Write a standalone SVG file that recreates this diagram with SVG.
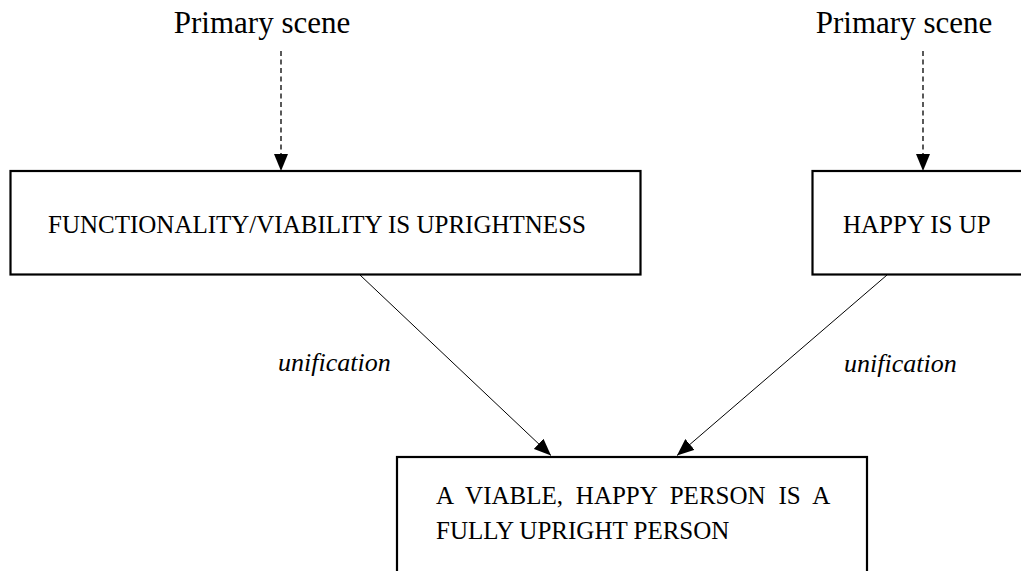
<svg xmlns="http://www.w3.org/2000/svg" width="1021" height="571" viewBox="0 0 1021 571">
  <style>
    .box { fill: #ffffff; stroke: #000000; stroke-width: 2.2; }
    .label { font-family: "Liberation Serif", "Times New Roman", serif; fill: #000000; }
    .head { font-size: 31px; }
    .body { font-size: 25px; }
    .tag { font-size: 26px; font-style: italic; }
    .dash { stroke: #000000; stroke-width: 1.3; stroke-dasharray: 5 3.5; fill: none; }
    .link { stroke: #000000; stroke-width: 1; fill: none; }
  </style>
  <defs>
    <marker id="tri" viewBox="0 0 14 17" refX="7" refY="17" markerWidth="14" markerHeight="17" markerUnits="userSpaceOnUse" orient="auto-start-reverse">
      <path d="M0 0 L14 0 L7 17 Z" fill="#000000"/>
    </marker>
    <marker id="tri2" viewBox="0 0 17 14" refX="17" refY="7" markerWidth="17" markerHeight="14" markerUnits="userSpaceOnUse" orient="auto">
      <path d="M0 0 L17 7 L0 14 Z" fill="#000000"/>
    </marker>
  </defs>
  <rect width="1021" height="571" fill="#ffffff"/>

  <g id="scene-left">
    <text class="label head" x="262" y="33" text-anchor="middle">Primary scene</text>
  </g>
  <g id="scene-right">
    <text class="label head" x="904" y="33" text-anchor="middle">Primary scene</text>
  </g>

  <g id="viability">
    <rect class="box" x="10.5" y="171" width="630" height="103.5"/>
    <text class="label body" x="48" y="233">FUNCTIONALITY/VIABILITY IS UPRIGHTNESS</text>
  </g>

  <g id="happy">
    <rect class="box" x="812.5" y="171" width="220" height="103.5"/>
    <text class="label body" x="843" y="233">HAPPY IS UP</text>
  </g>

  <g id="person">
    <rect class="box" x="397" y="457" width="470" height="130"/>
    <text class="label body" x="436" y="504" word-spacing="6.6">A VIABLE, HAPPY PERSON IS A</text>
    <text class="label body" x="436" y="539">FULLY UPRIGHT PERSON</text>
  </g>

  <g id="connectors">
    <line class="dash" x1="281" y1="51" x2="281" y2="158"/>
    <path d="M274 154 L288 154 L281 171 Z" fill="#000000"/>
    <line class="dash" x1="923" y1="51" x2="923" y2="158"/>
    <path d="M916 154 L930 154 L923 171 Z" fill="#000000"/>

    <line class="link" x1="360" y1="275" x2="551" y2="455.5" marker-end="url(#tri2)"/>
    <line class="link" x1="887" y1="275" x2="677" y2="455.5" marker-end="url(#tri2)"/>

    <text class="label tag" x="278" y="371">unification</text>
    <text class="label tag" x="844" y="372">unification</text>
  </g>
</svg>
